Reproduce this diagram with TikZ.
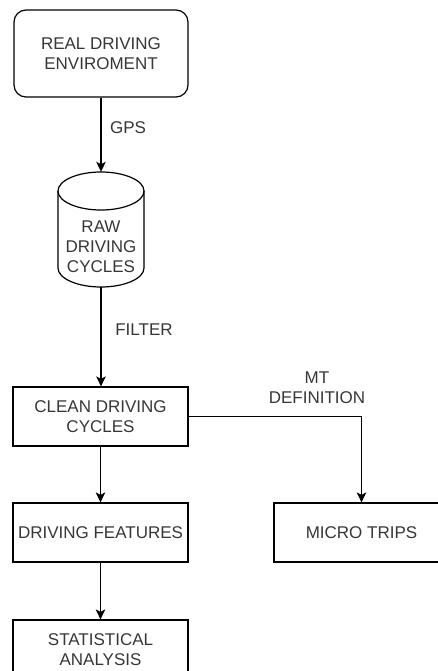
\documentclass[tikz,border=0pt]{standalone}
\usepackage{fontspec}
\setmainfont{Liberation Sans}
\usetikzlibrary{arrows.meta}
\definecolor{txt}{RGB}{55,55,55}
\begin{document}
\begin{tikzpicture}[x=1pt,y=1pt,
  every node/.style={font=\fontsize{17}{20}\selectfont, text=txt, align=center, inner sep=0pt},
  box/.style={draw=black, line width=1.2pt, minimum width=175pt, minimum height=59pt},
  lbl/.style={},
  conn/.style={draw=black, line width=1.2pt, -{Stealth[length=10pt,width=9.5pt,inset=2.5pt]}},
  plain/.style={draw=black, line width=1.2pt}]
\useasboundingbox (0,0) rectangle (438,-671);
\clip (0,0) rectangle (438,-671);
\fill[white] (0,0) rectangle (438,-671);

\node[box, rounded corners=12pt, minimum width=174pt, minimum height=87pt] (env) at (101,-53.5) {REAL DRIVING\\ENVIROMENT};

% cylinder
\node[minimum width=86pt, minimum height=115pt] (raw) at (101,-229.5) {};
\draw[plain] (58,-191) -- (58,-268) arc[start angle=180, end angle=360, x radius=43pt, y radius=19pt]
  -- (144,-191) arc[start angle=0, end angle=180, x radius=43pt, y radius=19pt] -- cycle;
\draw[plain] (58,-191) arc[start angle=180, end angle=360, x radius=43pt, y radius=19pt];
\node (rawtext) at (101,-247) {RAW\\DRIVING\\CYCLES};

\node[box] (clean) at (100.5,-416.5) {CLEAN DRIVING\\CYCLES};
\node[box] (feat) at (100.5,-532.5) {DRIVING FEATURES};
\node[box, minimum height=60pt] (stat) at (100.5,-650) {STATISTICAL\\ANALYSIS};
\node[box] (micro) at (361.5,-532.5) {MICRO TRIPS};

\node[lbl] (gps) at (128,-128) {GPS};
\node[lbl] (filter) at (144,-330) {FILTER};
\node[lbl] (mtdef) at (317,-388) {MT\\DEFINITION};

\draw[conn] (env.south -| raw.north) -- (raw.north);
\draw[conn] (raw.south) -- (raw.south |- clean.north);
\draw[conn] (clean) -- (feat);
\draw[conn] (feat) -- (stat);
\draw[conn] (clean.east) -| (micro.north);
\end{tikzpicture}
\end{document}
